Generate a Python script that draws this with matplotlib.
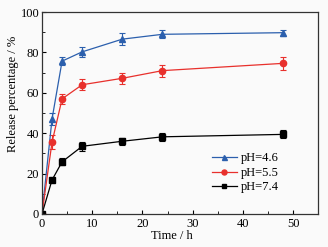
import matplotlib
matplotlib.use('Agg')
import matplotlib.pyplot as plt
from matplotlib.ticker import MultipleLocator

plt.rcParams['font.family'] = ['Liberation Serif', 'DejaVu Serif']

time_h = [0, 2, 4, 8, 16, 24, 48]
ph46 = [0, 47, 75.7, 80.3, 86.6, 89, 89.8]
ph46_err = [0, 3, 2, 2.5, 2.8, 2, 1.5]
ph55 = [0, 35.5, 57, 64, 67.2, 71, 74.6]
ph55_err = [0, 3.5, 2.5, 2.8, 2.8, 3, 3.2]
ph74 = [0, 16.8, 25.8, 33.5, 36, 38.2, 39.4]
ph74_err = [0, 1.2, 1.8, 2.2, 1.8, 2, 2]
labels = ['pH=4.6', 'pH=5.5', 'pH=7.4']

fig = plt.figure(figsize=(3.28, 2.47), dpi=100)
fig.patch.set_facecolor('#fafafa')
ax = fig.add_axes([0.128, 0.134, 0.842, 0.817])
ax.set_facecolor('#fafafa')

kw = dict(capsize=2, elinewidth=0.8, capthick=0.8, lw=0.9, markersize=4.5)
e1 = ax.errorbar(time_h, ph46, yerr=ph46_err, color='#2b5fad', marker='^', **kw)
e2 = ax.errorbar(time_h, ph55, yerr=ph55_err, color='#e8302c', marker='o', **kw)
e3 = ax.errorbar(time_h, ph74, yerr=ph74_err, color='black', marker='s', markersize=4, lw=0.9,
                 capsize=2, elinewidth=0.8, capthick=0.8)

ax.set_xlim(0, 55)
ax.set_ylim(0, 100)
ax.xaxis.set_major_locator(MultipleLocator(10))
ax.xaxis.set_minor_locator(MultipleLocator(5))
ax.yaxis.set_major_locator(MultipleLocator(20))
ax.yaxis.set_minor_locator(MultipleLocator(10))
ax.tick_params(which='both', direction='in', labelsize=9)
ax.tick_params(axis='x', pad=3)
ax.tick_params(axis='y', pad=2)
ax.tick_params(which='major', length=3)
ax.tick_params(which='minor', length=2)
for s in ax.spines.values():
    s.set_linewidth(0.9)
    s.set_color('#333333')
ax.set_xlabel('Time / h', fontsize=9, va='center')
ax.set_ylabel('Release percentage / %', fontsize=9, va='center')
ax.xaxis.set_label_coords(0.471, -0.109)
ax.yaxis.set_label_coords(-0.105, 0.594)

leg = ax.legend([e1[0], e2[0], e3[0]], labels, loc='center left',
                bbox_to_anchor=(0.615, 0.203), frameon=False, borderaxespad=0, borderpad=0,
                fontsize=9, handlelength=2.0, handletextpad=0.3, labelspacing=0.2,
                markerscale=0.8)

fig.savefig('out.png', dpi=100, facecolor=fig.get_facecolor())
